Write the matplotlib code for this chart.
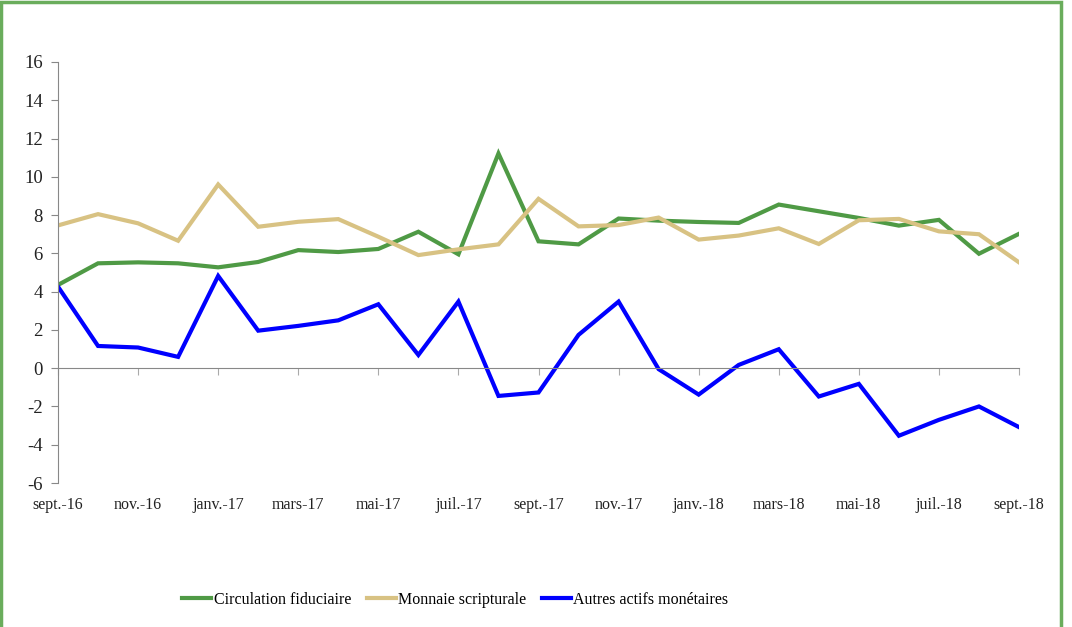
import matplotlib
matplotlib.use("Agg")
import matplotlib.pyplot as plt
from matplotlib.patches import Rectangle

months = ["sept.-16", "oct.-16", "nov.-16", "déc.-16", "janv.-17", "févr.-17",
          "mars-17", "avr.-17", "mai-17", "juin-17", "juil.-17", "août-17",
          "sept.-17", "oct.-17", "nov.-17", "déc.-17", "janv.-18", "févr.-18",
          "mars-18", "avr.-18", "mai-18", "juin-18", "juil.-18", "août-18",
          "sept.-18"]

circulation = [4.35, 5.48, 5.53, 5.48, 5.27, 5.55, 6.17, 6.07, 6.23, 7.13, 5.95, 11.22,
               6.63, 6.47, 7.82, 7.71, 7.64, 7.59, 8.55, 8.2, 7.85, 7.45, 7.75, 5.98,
               7.02]
scripturale = [7.46, 8.05, 7.57, 6.66, 9.6, 7.39, 7.65, 7.79, 6.87, 5.91, 6.21, 6.47,
               8.85, 7.41, 7.48, 7.87, 6.72, 6.93, 7.31, 6.49, 7.73, 7.8, 7.15, 7.0,
               5.53]
autres = [4.26, 1.16, 1.08, 0.59, 4.82, 1.96, 2.21, 2.5, 3.34, 0.69, 3.48, -1.45,
          -1.27, 1.74, 3.48, -0.05, -1.38, 0.17, 0.99, -1.48, -0.82, -3.53, -2.7, -2.0,
          -3.08]

series_names = ["Circulation fiduciaire", "Monnaie scripturale", "Autres actifs monétaires"]
colors = ["#4f9a45", "#d8c283", "#0000ff"]

plt.rcParams["font.family"] = ["Liberation Serif", "DejaVu Serif"]
plt.rcParams["axes.unicode_minus"] = False

fig = plt.figure(figsize=(10.72, 6.27), dpi=100)
ax = fig.add_axes([58 / 1072, 1 - 483 / 627, (1019 - 58) / 1072, (483 - 62) / 627])

x = list(range(len(months)))
for vals, name, c in zip([circulation, scripturale, autres], series_names, colors):
    ax.plot(x, vals, color=c, lw=3.0, label=name, solid_joinstyle="miter")

ax.set_xlim(0, len(months) - 1)
ax.set_ylim(-6, 16)
ax.set_yticks(range(-6, 17, 2))
ax.tick_params(axis="y", direction="out", length=5, color="#888888", labelsize=13.5,
               labelcolor="#222222", pad=6)

# x axis line sits at zero, labels stay at bottom
for s in ["top", "right"]:
    ax.spines[s].set_visible(False)
ax.spines["left"].set_color("#888888")
ax.spines["bottom"].set_position(("data", 0))
ax.spines["bottom"].set_color("#888888")
ax.set_xticks(x[::2])
ax.tick_params(axis="x", direction="out", length=5, color="#aaaaaa", labelbottom=False)

sec = ax.secondary_xaxis("bottom")
sec.set_xticks(x[::2])
sec.set_xticklabels(months[::2])
sec.tick_params(length=0, labelsize=11.5, labelcolor="#222222", pad=10)
sec.spines["bottom"].set_visible(False)

fig.legend(loc="center left", bbox_to_anchor=(168 / 1072, 1 - 600 / 627), ncol=3,
           frameon=False, fontsize=11.5, handlelength=1.8, handletextpad=0.15,
           columnspacing=1.0)

fig.add_artist(Rectangle((0.001, -0.02), 1060 / 1072, 1.017, transform=fig.transFigure,
                         fill=False, edgecolor="#6aad5c", lw=2.5))

fig.savefig("out.png", dpi=100)
